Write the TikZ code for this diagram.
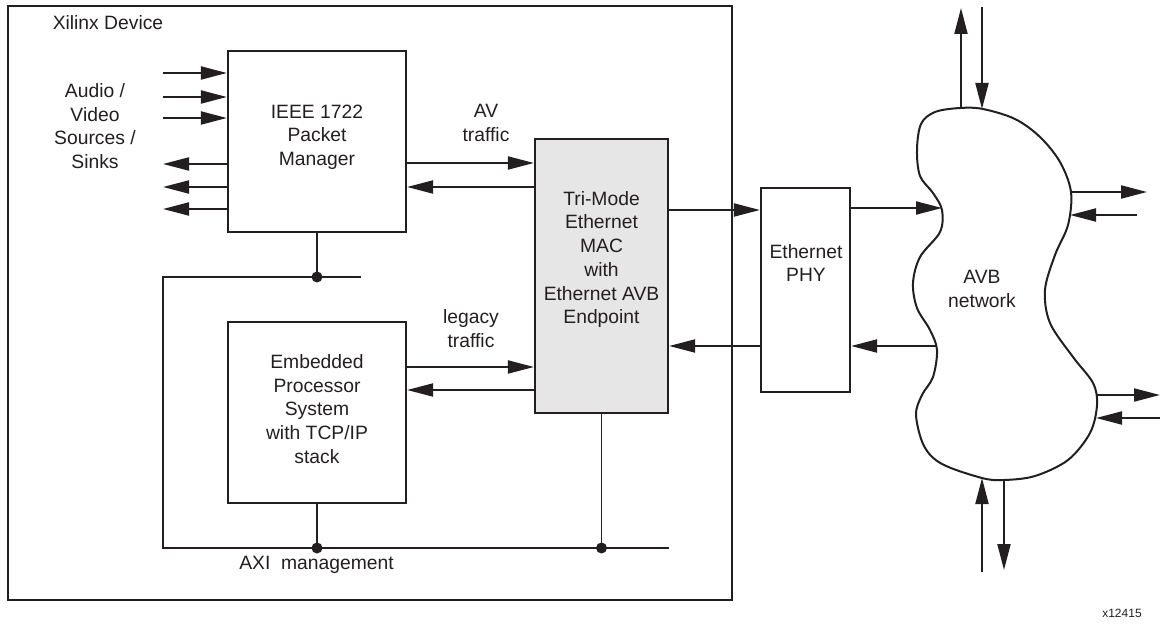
\documentclass[tikz,border=0pt]{standalone}
\usepackage{fontspec}
\setmainfont{Liberation Sans}
\usetikzlibrary{arrows.meta,calc}
\definecolor{ink}{HTML}{231F20}
\definecolor{macfill}{HTML}{E6E6E6}
\begin{document}
\begin{tikzpicture}[x=1pt,y=-1pt,
  box/.style={draw=ink, line width=2.2pt, inner sep=0pt},
  lbl/.style={text=ink, align=center, font=\fontsize{19.3}{23.7}\selectfont, inner sep=0pt},
  arr/.style={draw=ink, line width=2pt, -{Triangle[length=26pt,width=13pt]}},
  bus/.style={draw=ink, line width=1.2pt},
  dotn/.style={circle, fill=ink, inner sep=0pt, minimum size=11pt},
  cloudline/.style={draw=ink, line width=2pt}]
\useasboundingbox (0,0) rectangle (1160,628);

% boxes
\node[box, minimum width=724pt, minimum height=594pt] (dev) at (370,303) {};
\node[box, minimum width=178pt, minimum height=181pt] (ieee) at (317,141.5) {};
\node[box, minimum width=178pt, minimum height=181pt] (emb) at (317,412.5) {};
\node[box, fill=macfill, minimum width=133pt, minimum height=274pt] (mac) at (601.5,276) {};
\node[box, minimum width=89pt, minimum height=204pt] (phy) at (805.5,290) {};

% texts
\node[lbl] (xd) at (108,23) {Xilinx Device};
\node[lbl] (avs) at (95,126) {Audio /\\Video\\Sources /\\Sinks};
\node[lbl] (ieeet) at (317,137) {IEEE 1722\\Packet\\Manager};
\node[lbl] (avt) at (486,123) {AV\\traffic};
\node[lbl] (mact) at (601.5,259.5) {Tri-Mode\\Ethernet\\MAC\\with\\Ethernet AVB\\Endpoint};
\node[lbl] (phyt) at (806,263) {Ethernet\\PHY};
\node[lbl] (lt) at (471,328.5) {legacy\\traffic};
\node[lbl] (embt) at (317,409) {Embedded\\Processor\\System\\with TCP/IP\\stack};
\node[lbl] (axi) at (316.5,565) {AXI\ \ management};
\node[lbl] (avb) at (982,289) {AVB\\network};
\node[text=ink, font=\fontsize{12}{14}\selectfont, inner sep=0pt] (fig) at (1122,613) {x12415};

% audio/video arrows
\coordinate (in1) at (163,73);
\coordinate (in2) at (163,97);
\coordinate (in3) at (163,118);
\coordinate (out1) at (163,164);
\coordinate (out2) at (163,187);
\coordinate (out3) at (163,209);
\draw[arr] (in1) -- (in1 -| ieee.west);
\draw[arr] (in2) -- (in2 -| ieee.west);
\draw[arr] (in3) -- (in3 -| ieee.west);
\draw[arr] (out1 -| ieee.west) -- (out1);
\draw[arr] (out2 -| ieee.west) -- (out2);
\draw[arr] (out3 -| ieee.west) -- (out3);

% AV traffic
\coordinate (av1) at (0,163);
\coordinate (av2) at (0,187);
\draw[arr] (av1 -| ieee.east) -- (av1 -| mac.west);
\draw[arr] (av2 -| mac.west) -- (av2 -| ieee.east);

% legacy traffic
\coordinate (lg1) at (0,367);
\coordinate (lg2) at (0,390);
\draw[arr] (lg1 -| emb.east) -- (lg1 -| mac.west);
\draw[arr] (lg2 -| mac.west) -- (lg2 -| emb.east);

% MAC <-> PHY
\coordinate (mp1) at (0,210);
\coordinate (mp2) at (0,346);
\draw[arr] (mp1 -| mac.east) -- (mp1 -| phy.west);
\draw[arr] (mp2 -| phy.west) -- (mp2 -| mac.east);

% AXI bus
\coordinate (tb) at (163,277);
\coordinate (tbe) at (361,277);
\coordinate (bb) at (163,548);
\coordinate (bbe) at (669,548);
\draw[bus] (tbe) -- (tb) -- (bb) -- (bbe);
\node[dotn] (d1) at (ieee.south |- tb) {};
\node[dotn] (d2) at (emb.south |- bb) {};
\node[dotn] (d3) at (mac.south |- bb) {};
\draw[bus] (ieee.south) -- (d1.center);
\draw[bus] (emb.south) -- (d2.center);
\draw[bus] (mac.south) -- (d3.center);

% cloud
\draw[cloudline] plot[smooth cycle, tension=0.55] coordinates {
 (960,108) (983,109) (1015,119) (1040,137) (1060,162) (1071,192)
 (1068,225) (1055,255) (1045,290) (1050,323) (1073,357) (1093,383)
 (1097,405) (1090,433) (1068,460) (1035,476) (1004,480) (982,478)
 (942,464) (924,446) (916,415) (922,395) (933,377) (937,350)
 (930,330) (917,308) (913,283) (920,257) (940,232) (942,210)
 (933,193) (920,176) (917,150) (921,124) (935,112)};

\coordinate (cl1) at (942,208);
\coordinate (cl2) at (937,346);
\draw[arr] (cl1 -| phy.east) -- (cl1);
\draw[arr] (cl2) -- (cl2 -| phy.east);

\coordinate (ct1) at (961,109);
\coordinate (ct1e) at (961,8);
\coordinate (ct2s) at (982,7);
\coordinate (ct2) at (982,109);
\draw[arr] (ct1) -- (ct1e);
\draw[arr] (ct2s) -- (ct2);

\coordinate (cr1) at (1071,192);
\coordinate (cr1e) at (1147,192);
\coordinate (cr2s) at (1137,215);
\coordinate (cr2) at (1070,215);
\draw[arr] (cr1) -- (cr1e);
\draw[arr] (cr2s) -- (cr2);

\coordinate (cr3) at (1097,395);
\coordinate (cr3e) at (1160,395);
\coordinate (cr4s) at (1160,418);
\coordinate (cr4) at (1096,418);
\draw[arr] (cr3) -- (cr3e);
\draw[arr] (cr4s) -- (cr4);

\coordinate (cb1s) at (982,572);
\coordinate (cb1) at (982,478);
\coordinate (cb2) at (1004,480);
\coordinate (cb2e) at (1004,570);
\draw[arr] (cb1s) -- (cb1);
\draw[arr] (cb2) -- (cb2e);
\end{tikzpicture}
\end{document}
